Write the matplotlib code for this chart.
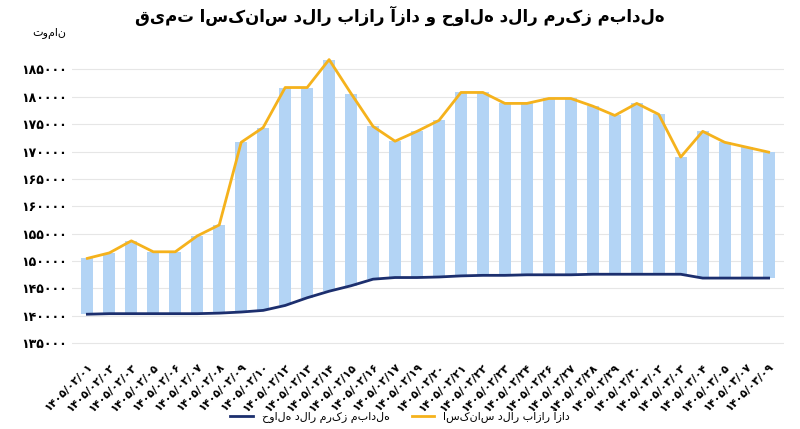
import matplotlib.pyplot as plt

plt.rcParams['font.family'] = ['DejaVu Sans']

fa = str.maketrans('0123456789', '۰۱۲۳۴۵۶۷۸۹')

dates = ['02/01', '02/02', '02/03', '02/05', '02/06', '02/07', '02/08', '02/09',
         '02/10', '02/12', '02/13', '02/14', '02/15', '02/16', '02/17', '02/19',
         '02/20', '02/21', '02/22', '02/23', '02/24', '02/26', '02/27', '02/28',
         '02/29', '02/30', '03/02', '03/03', '03/04', '03/05', '03/07', '03/09']
labels = [('1405/' + d).translate(fa) for d in dates]

free_market = [150500, 151500, 153700, 151700, 151700, 154600, 156600, 171700,
               174400, 181700, 181700, 186800, 180600, 174600, 171900, 173700,
               175700, 180800, 180800, 178800, 178800, 179700, 179700, 178300,
               176600, 178800, 176800, 169000, 173700, 171700, 170800, 169900]
havaleh = [140300, 140400, 140400, 140400, 140400, 140400, 140500, 140700,
           141000, 141900, 143300, 144500, 145500, 146700, 147000, 147000,
           147100, 147300, 147400, 147400, 147500, 147500, 147500, 147600,
           147600, 147600, 147600, 147600, 146900, 146900, 146900, 146900]

x = list(range(len(dates)))
fig, ax = plt.subplots(figsize=(8, 4.29), dpi=100)
fig.subplots_adjust(left=0.09, right=0.98, top=0.87, bottom=0.168)

ax.bar(x, [f - h for f, h in zip(free_market, havaleh)], bottom=havaleh,
       width=0.55, color='#b3d4f5', zorder=2)
l1, = ax.plot(x, free_market, color='#f5b21c', lw=2, zorder=3)
l2, = ax.plot(x, havaleh, color='#1c2f6e', lw=2, zorder=3)

ax.set_ylim(132500, 187500)
ticks = list(range(135000, 185001, 5000))
ax.set_yticks(ticks)
ax.set_yticklabels([str(t).translate(fa) for t in ticks], fontsize=9, fontweight='bold')
ax.set_xticks(x)
ax.set_xticklabels(labels, rotation=45, ha='right', rotation_mode='anchor',
                   fontsize=8, fontweight='bold')
ax.set_xlim(-0.7, len(x) - 0.3)
ax.grid(axis='y', color='#e6e6e6', lw=0.8, zorder=0)
ax.tick_params(length=0)
for s in ax.spines.values():
    s.set_visible(False)

fig.text(0.5, 0.95, 'قیمت اسکناس دلار بازار آزاد و حواله دلار مرکز مبادله',
         ha='center', fontsize=12, fontweight='bold')
fig.text(0.04, 0.915, 'تومان', fontsize=8)
fig.legend([l2, l1], ['حواله دلار مرکز مبادله', 'اسکناس دلار بازار آزاد'],
           loc='lower center', ncol=2, frameon=False, fontsize=8,
           bbox_to_anchor=(0.5, -0.01))
fig.savefig('out.png')
